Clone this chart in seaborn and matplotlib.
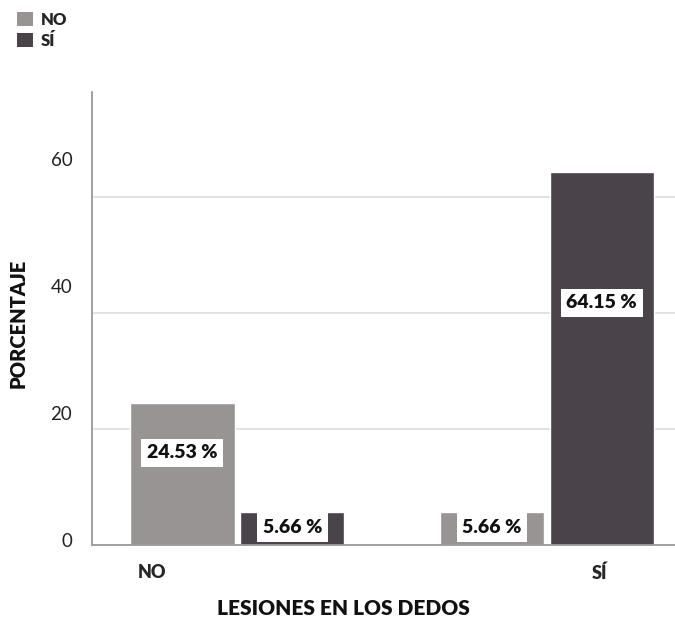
"""
Lesiones en los dedos: porcentaje por grupo (NO / SÍ).
"""
import numpy as np
import pandas as pd
import seaborn as sns
from matplotlib import pyplot as plt
from matplotlib import transforms
from matplotlib.patches import Patch

# datos
lesiones = ["NO", "SÍ"]
grupos = ["NO", "SÍ"]
porcentaje_no = [24.53, 5.66]
porcentaje_si = [5.66, 64.15]
ticks_y = [0, 20, 40, 60]

colores = ["#989493", "#4b434a"]

sns.set_theme(style="white")
plt.rcParams['font.family'] = ['Lato', 'DejaVu Sans']
negrita = "heavy"

df = pd.DataFrame({
    "lesiones": lesiones * 2,
    "grupo": [grupos[0]] * 2 + [grupos[1]] * 2,
    "porcentaje": porcentaje_no + porcentaje_si,
})

fig = plt.figure(figsize=(6.75, 6.24), dpi=100)
ax = fig.add_axes([0.136, 0.1266, 0.864, 0.726])

sns.barplot(data=df, x="lesiones", y="porcentaje", hue="grupo",
            order=lesiones, hue_order=grupos, palette=colores,
            width=0.71, gap=0.05, saturation=1, legend=False, ax=ax)

ax.set_xlim(-0.47, 1.414)
ax.set_ylim(0, 78)
ax.set_yticks(ticks_y)
ax.set_yticklabels([str(t) for t in ticks_y])
ax.yaxis.grid(True, color="#dddddd", linewidth=1.2)
ax.set_axisbelow(True)

for lado in ["top", "right"]:
    ax.spines[lado].set_visible(False)
for lado in ["left", "bottom"]:
    ax.spines[lado].set_color("#999999")
    ax.spines[lado].set_linewidth(1.3)

ax.tick_params(axis="y", length=0, pad=14, labelsize=13.5, colors="#222222")
ax.tick_params(axis="x", length=0, pad=14, labelsize=13)

# etiquetas del eje y por encima de la línea (más cuanto más arriba)
for lbl, t in zip(ax.get_yticklabels(), ticks_y):
    dy = 5 + 0.55 * t
    lbl.set_transform(lbl.get_transform() +
                      transforms.ScaledTranslation(0, dy / 100, fig.dpi_scale_trans))
# etiquetas del eje x desplazadas como en el original
desplaz = [-85, 53]
for lbl, dx in zip(ax.get_xticklabels(), desplaz):
    lbl.set_fontweight(negrita)
    lbl.set_transform(lbl.get_transform() +
                      transforms.ScaledTranslation(dx / 100, 0, fig.dpi_scale_trans))

ax.set_xlabel("LESIONES EN LOS DEDOS", fontsize=15, fontweight=negrita, color="#111111")
ax.xaxis.set_label_coords(0.432, -0.12)
ax.set_ylabel("PORCENTAJE", fontsize=14.5, fontweight=negrita, color="#111111")
ax.yaxis.set_label_coords(-0.11, 0.49)

# etiquetas de valor dentro de las barras
for cont in ax.containers:
    for barra in cont:
        h = barra.get_height()
        y = h * (0.5 + 0.15 * np.clip(h / 25, 0, 1))
        ax.text(barra.get_x() + barra.get_width() / 2, y, f"{h:.2f} %",
                ha="center", va="center", fontsize=14, fontweight=negrita,
                color="#111111",
                bbox=dict(facecolor="white", edgecolor="none", pad=4))

# leyenda arriba a la izquierda
handles = [Patch(facecolor=c, edgecolor="none") for c in colores]
fig.legend(handles, grupos, loc="upper left", bbox_to_anchor=(0.008, 1.0),
           frameon=False, handlelength=0.95, handleheight=0.95,
           handletextpad=0.45, labelspacing=0.3, borderaxespad=0.3,
           prop={"weight": negrita, "size": 12})

plt.savefig("out.png", dpi=100)
